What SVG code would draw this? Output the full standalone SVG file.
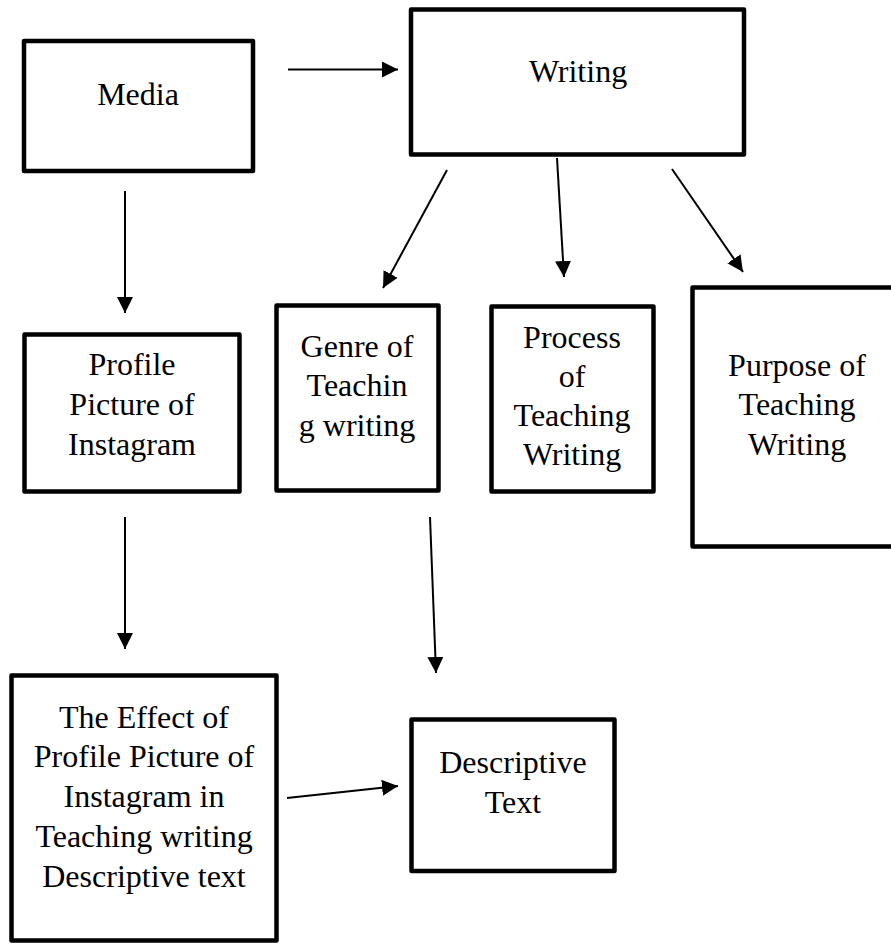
<svg xmlns="http://www.w3.org/2000/svg" width="891" height="943" viewBox="0 0 891 943">
<defs>
<style>
.box{fill:#fff;stroke:#000;stroke-width:4.5;stroke-linejoin:round}
.lbl{font-size:32px;fill:#000;text-anchor:middle}
.conn{stroke:#000;stroke-width:2;fill:none;marker-end:url(#ah)}
</style>
<marker id="ah" viewBox="0 0 10 10" refX="10" refY="5" markerWidth="8" markerHeight="8" markerUnits="strokeWidth" orient="auto">
<path d="M0,0 L10,5 L0,10 Z" fill="#000"/>
</marker>
</defs>
<rect width="891" height="943" fill="#fff"/>
<g id="connectors">
<line class="conn" x1="288" y1="69.5" x2="398" y2="69.5"/>
<line class="conn" x1="125" y1="191" x2="125" y2="313"/>
<line class="conn" x1="447" y1="170" x2="383" y2="288"/>
<line class="conn" x1="557" y1="158" x2="564" y2="277"/>
<line class="conn" x1="672" y1="169" x2="743" y2="272"/>
<line class="conn" x1="125" y1="517" x2="125" y2="649"/>
<line class="conn" x1="430" y1="517" x2="436" y2="673"/>
<line class="conn" x1="287" y1="798" x2="398" y2="786"/>
</g>
<g font-family="'Liberation Serif', serif">
<g id="media">
<rect class="box" x="24" y="41" width="229" height="130"/>
<text class="lbl" x="138" y="105">Media</text>
</g>
<g id="writing">
<rect class="box" x="411" y="9.5" width="333" height="145"/>
<text class="lbl" x="578" y="82">Writing</text>
</g>
<g id="profile">
<rect class="box" x="24.5" y="334.5" width="215" height="157"/>
<text class="lbl" x="132" y="375">Profile</text>
<text class="lbl" x="132" y="415">Picture of</text>
<text class="lbl" x="132" y="455">Instagram</text>
</g>
<g id="genre">
<rect class="box" x="276.5" y="305.5" width="162" height="185"/>
<text class="lbl" x="357" y="357">Genre of</text>
<text class="lbl" x="357" y="396">Teachin</text>
<text class="lbl" x="357" y="436">g writing</text>
</g>
<g id="process">
<rect class="box" x="491.5" y="306.5" width="162" height="185"/>
<text class="lbl" x="572" y="348">Process</text>
<text class="lbl" x="572" y="387">of</text>
<text class="lbl" x="572" y="426">Teaching</text>
<text class="lbl" x="572" y="465">Writing</text>
</g>
<g id="purpose">
<rect class="box" x="692.5" y="287.5" width="220" height="259"/>
<text class="lbl" x="797" y="376">Purpose of</text>
<text class="lbl" x="797" y="415">Teaching</text>
<text class="lbl" x="797" y="455">Writing</text>
</g>
<g id="effect">
<rect class="box" x="11.5" y="675.5" width="265" height="265"/>
<text class="lbl" x="144" y="728">The Effect of</text>
<text class="lbl" x="144" y="767">Profile Picture of</text>
<text class="lbl" x="144" y="807">Instagram in</text>
<text class="lbl" x="144" y="847">Teaching writing</text>
<text class="lbl" x="144" y="887">Descriptive text</text>
</g>
<g id="descriptive">
<rect class="box" x="411.5" y="719.5" width="203" height="151.5"/>
<text class="lbl" x="513" y="773">Descriptive</text>
<text class="lbl" x="513" y="813">Text</text>
</g>
</g>
</svg>
